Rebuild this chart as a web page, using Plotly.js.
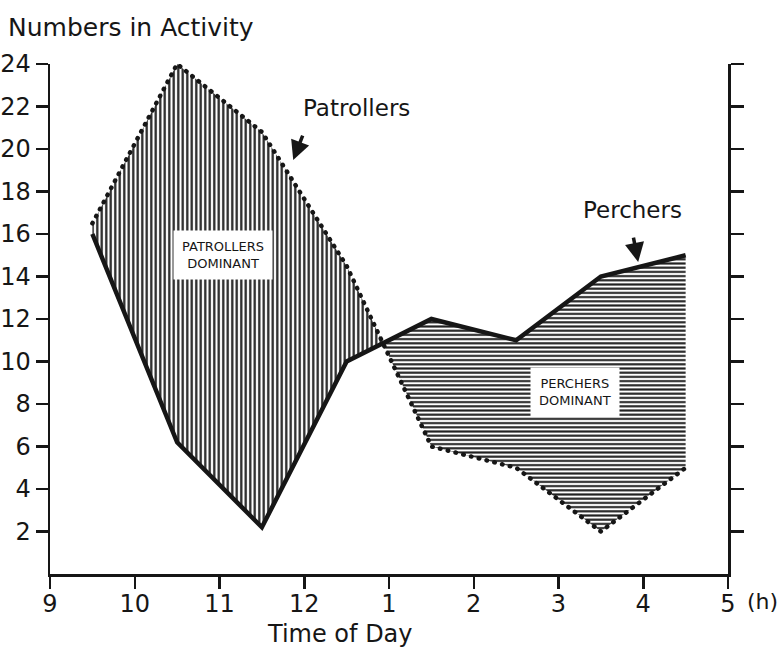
<!DOCTYPE html>
<html>
<head>
<meta charset="utf-8">
<script src="https://cdn.plot.ly/plotly-3.0.1.min.js"></script>
<style>html,body{margin:0;padding:0;background:#fff;}#chart{width:783px;height:659px;}</style>
</head>
<body>
<div id="chart"></div>
<script>
// Data (time in decimal hours, 13 = 1 pm)
const times = [9.5, 10.5, 11.5, 12.5, 13.5, 14.5, 15.5, 16.5];
const patrollers = [16.5, 24, 20.8, 14.5, 6, 5, 2, 5];
const perchers = [16, 6.2, 2.2, 10, 12, 11, 14, 15];
const xTickVals = [9, 10, 11, 12, 13, 14, 15, 16, 17];
const xTickText = ['9', '10', '11', '12', '1', '2', '3', '4', '5'];
const yTickVals = [2, 4, 6, 8, 10, 12, 14, 16, 18, 20, 22, 24];

// Split the area between the two series at the crossing point
function crossing() {
  for (let i = 0; i < times.length - 1; i++) {
    const d0 = patrollers[i] - perchers[i];
    const d1 = patrollers[i + 1] - perchers[i + 1];
    if (d0 > 0 && d1 < 0) {
      const t = d0 / (d0 - d1);
      return {
        i: i,
        x: times[i] + t * (times[i + 1] - times[i]),
        y: perchers[i] + t * (perchers[i + 1] - perchers[i])
      };
    }
  }
  return null;
}
const c = crossing();
const leftX = [], leftY = [], rightX = [], rightY = [];
for (let k = 0; k <= c.i; k++) { leftX.push(times[k]); leftY.push(patrollers[k]); }
leftX.push(c.x); leftY.push(c.y);
for (let k = c.i; k >= 0; k--) { leftX.push(times[k]); leftY.push(perchers[k]); }
rightX.push(c.x); rightY.push(c.y);
for (let k = c.i + 1; k < times.length; k++) { rightX.push(times[k]); rightY.push(perchers[k]); }
for (let k = times.length - 1; k > c.i; k--) { rightX.push(times[k]); rightY.push(patrollers[k]); }
rightX.push(c.x); rightY.push(c.y);

const ink = '#161616';
const FONT = 'DejaVu Sans, sans-serif';

const traces = [
  {
    x: leftX, y: leftY, type: 'scatter', mode: 'lines', fill: 'toself',
    line: {width: 0, color: 'rgba(0,0,0,0)'},
    fillcolor: 'white',
    fillpattern: {shape: '|', size: 4.5, solidity: 0.5, fgcolor: '#222', bgcolor: 'white'},
    hoverinfo: 'skip', showlegend: false
  },
  {
    x: rightX, y: rightY, type: 'scatter', mode: 'lines', fill: 'toself',
    line: {width: 0, color: 'rgba(0,0,0,0)'},
    fillcolor: 'white',
    fillpattern: {shape: '-', size: 4.2, solidity: 0.5, fgcolor: '#222', bgcolor: 'white'},
    hoverinfo: 'skip', showlegend: false
  },
  {
    x: times, y: patrollers, type: 'scatter', mode: 'lines', name: 'Patrollers',
    line: {color: ink, width: 4.5, dash: '0.5px,7.5px'}, showlegend: false
  },
  {
    x: times, y: perchers, type: 'scatter', mode: 'lines', name: 'Perchers',
    line: {color: ink, width: 4.5}, showlegend: false
  },
  {
    x: [times[0]], y: [perchers[0]], yaxis: 'y2', type: 'scatter', mode: 'markers',
    marker: {opacity: 0}, hoverinfo: 'skip', showlegend: false
  }
];

const axisCommon = {
  showline: true, linecolor: ink, linewidth: 2.5,
  ticks: 'outside', tickcolor: ink, tickwidth: 2.5,
  showgrid: false, zeroline: false, fixedrange: true
};

const layout = {
  width: 783, height: 659,
  margin: {l: 50, r: 55, t: 64, b: 85},
  paper_bgcolor: 'white', plot_bgcolor: 'white',
  font: {family: FONT, color: ink},
  title: {
    text: 'Numbers in Activity', font: {family: FONT, size: 25, color: ink},
    xref: 'container', yref: 'container', x: 8 / 783, xanchor: 'left',
    y: 1 - 27 / 659, yanchor: 'middle'
  },
  xaxis: Object.assign({}, axisCommon, {
    range: [9, 17], tickvals: xTickVals, ticktext: xTickText, ticklen: 12,
    ticklabelstandoff: -5,
    tickfont: {family: FONT, size: 24, color: ink}
  }),
  yaxis: Object.assign({}, axisCommon, {
    range: [0, 24], tickvals: yTickVals, ticklen: 12,
    tickfont: {family: FONT, size: 24, color: ink}
  }),
  yaxis2: Object.assign({}, axisCommon, {
    range: [0, 24], tickvals: yTickVals, ticklen: 13, overlaying: 'y', side: 'right',
    showticklabels: false
  }),
  annotations: [
    {xref: 'paper', yref: 'paper', x: (340 - 50) / 678, y: (574 - 634) / 510,
     text: 'Time of Day', showarrow: false, font: {family: FONT, size: 24, color: ink},
     xanchor: 'center', yanchor: 'middle'},
    {xref: 'paper', yref: 'paper', x: (763 - 50) / 678, y: (574 - 601) / 510,
     text: '(h)', showarrow: false, font: {family: FONT, size: 22, color: ink},
     xanchor: 'center', yanchor: 'middle'},
    {x: 11.04, y: 15.0, text: 'PATROLLERS<br>DOMINANT', showarrow: false,
     font: {family: FONT, size: 13, color: ink}, bgcolor: 'white', borderpad: 8},
    {x: 15.19, y: 8.56, text: 'PERCHERS<br>DOMINANT', showarrow: false,
     font: {family: FONT, size: 13, color: ink}, bgcolor: 'white', borderpad: 8},
    {x: 12.62, y: 21.93, text: 'Patrollers', showarrow: false,
     font: {family: FONT, size: 23, color: ink}},
    {x: 11.87, y: 19.48, text: '', showarrow: true, ax: 10, ay: -26,
     arrowhead: 2, arrowsize: 1.1, arrowwidth: 3.5, arrowcolor: ink, standoff: 0},
    {x: 15.87, y: 17.13, text: 'Perchers', showarrow: false,
     font: {family: FONT, size: 23, color: ink}},
    {x: 15.94, y: 14.68, text: '', showarrow: true, ax: -5, ay: -26,
     arrowhead: 2, arrowsize: 1.1, arrowwidth: 3.5, arrowcolor: ink, standoff: 0}
  ]
};

Plotly.newPlot('chart', traces, layout, {displayModeBar: false, staticPlot: true}).then(function (gd) {
  // round caps turn the short dashes into dots, as in the printed figure
  const paths = gd.querySelectorAll('.scatterlayer .trace');
  const dotted = paths[2] && paths[2].querySelector('path.js-line');
  if (dotted) dotted.style.strokeLinecap = 'round';
});
</script>
</body>
</html>
